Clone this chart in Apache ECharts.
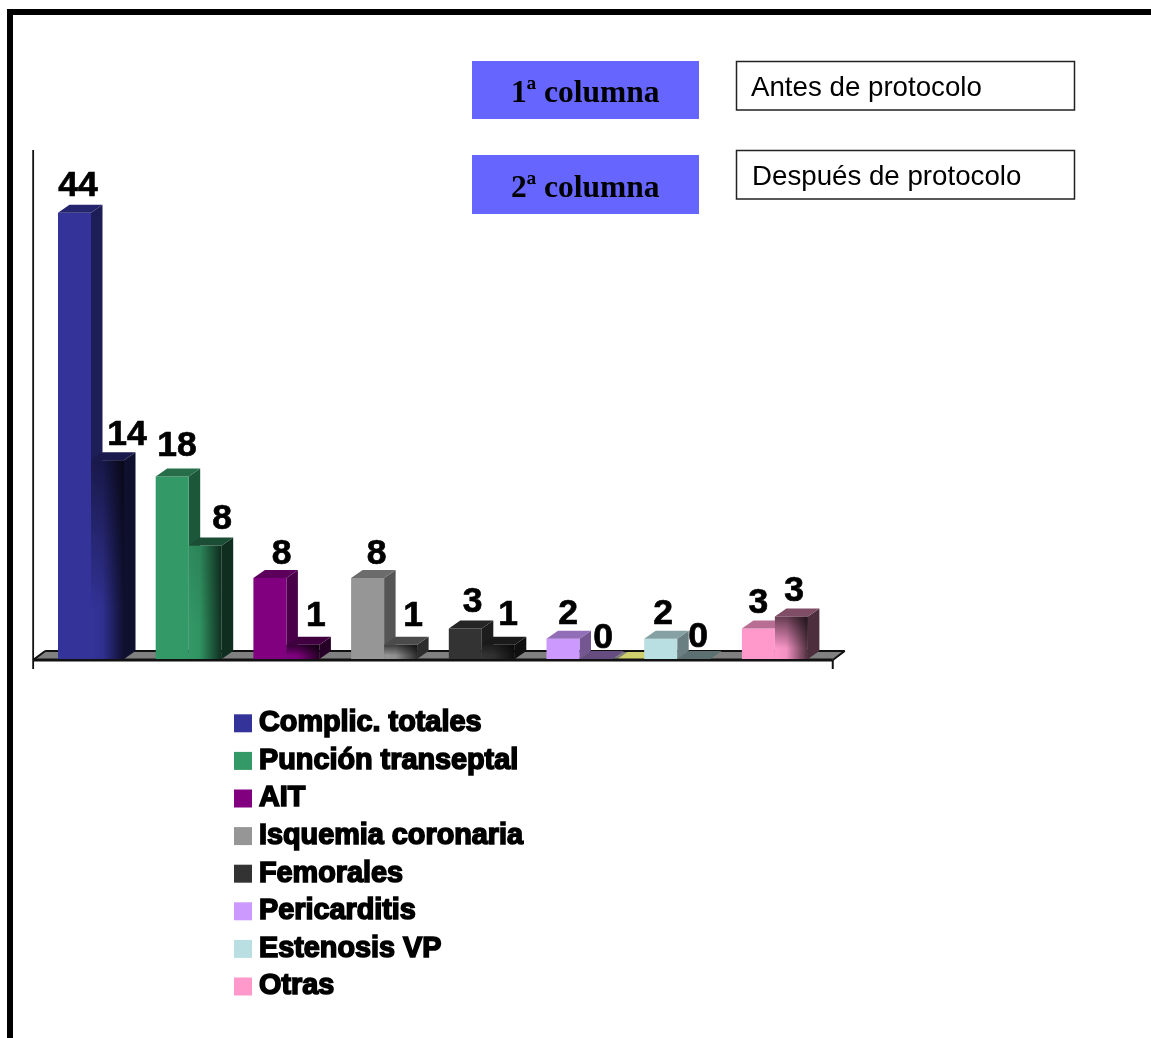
<!DOCTYPE html>
<html>
<head>
<meta charset="utf-8">
<title>Complicaciones antes y después de protocolo</title>
<style>html,body{margin:0;padding:0;background:#fff}#chart{width:1151px;height:1038px}</style>
<script src="https://cdn.jsdelivr.net/npm/echarts@6/dist/echarts.min.js"></script>
</head>
<body>
<div id="chart"></div>
<script>
// Complication counts per type, before and after the protocol.
const complicaciones = ['Complic. totales', 'Punción transeptal', 'AIT', 'Isquemia coronaria', 'Femorales', 'Pericarditis', 'Estenosis VP', 'Otras'];
const antes = [44, 18, 8, 8, 3, 2, 2, 3];
const despues = [14, 8, 1, 1, 1, 0, 0, 3];
const colores = ['#333399', '#339966', '#800080', '#969696', '#333333', '#cc99ff', '#b9dfe2', '#ff99cc'];

// Label offsets from the top of each column: [dx, dy].
const ajusteAntes = [[3.5, -8], [4.8, -11.5], [11.8, -5], [9, -5], [7.4, -7.6], [5, -5.7], [2.3, -5.7], [0, -6.6]];
const ajusteDespues = [[19.5, -6], [17, -7], [13, -10], [12.4, -10], [9.7, -11], [7, -2], [4.3, -3], [2.6, -6]];
// Darkening toward the top of the second column's front face.
const sombraDespues = [0.5, 0.1, 0.6, 0.6, 0.4, 0, 0, 0.6];

const DX = 11.5, DY = 8, BAR = 33, BASELINE_SHIFT = 7;

function tono(hex, f) {
  const n = parseInt(hex.slice(1), 16);
  const c = [n >> 16, (n >> 8) & 255, n & 255].map(v => Math.round(v * f));
  return 'rgb(' + c.join(',') + ')';
}
function poly(points, fill) {
  return { type: 'polygon', shape: { points }, style: { fill } };
}

// A column drawn as three faces: front, top and side, plus its value label.
function columna(api, cat, color, segunda, ajuste) {
  const v = api.value(1);
  const base = api.coord([cat, 0]);
  const top = api.coord([cat, v]);
  const x0 = base[0] - (segunda ? 0 : BAR), x1 = x0 + BAR, y0 = base[1], y1 = top[1];
  const rect = [[x0, y1], [x1, y1], [x1, y0], [x0, y0]];
  const kids = [];
  if (v > 0) {
    kids.push(poly([[x1, y1], [x1 + DX, y1 - DY], [x1 + DX, y0 - DY], [x1, y0]], tono(color, segunda ? 0.3 : 0.57)));
    if (segunda) {
      kids.push(poly(rect, new echarts.graphic.LinearGradient(0, 0, 1, 0, [
        { offset: 0, color: color }, { offset: 0.35, color: tono(color, 0.95) }, { offset: 1, color: tono(color, 0.3) }])));
      kids.push(poly(rect, new echarts.graphic.LinearGradient(0, 0, 0, 1, [
        { offset: 0, color: 'rgba(0,0,0,' + sombraDespues[cat] + ')' }, { offset: 0.75, color: 'rgba(0,0,0,0)' }])));
    } else {
      kids.push(poly(rect, color));
    }
  }
  kids.push(poly([[x0, y1], [x0 + DX, y1 - DY], [x1 + DX, y1 - DY], [x1, y1]], tono(color, segunda ? 0.5 : 0.72)));
  kids.push({
    type: 'text',
    style: {
      text: String(v), x: (x0 + x1) / 2 + ajuste[0], y: y1 - DY + ajuste[1] + BASELINE_SHIFT,
      font: 'bold 35.5px "Liberation Sans"', fill: '#000', stroke: '#000', lineWidth: 0.7,
      textAlign: 'center', textVerticalAlign: 'bottom'
    }
  });
  return { type: 'group', children: kids };
}

// Gray floor, vertical axis line and the stray zero-height mark on the floor.
function suelo(params, api) {
  const cs = params.coordSys, b = cs.y + cs.height;
  const xa = cs.x - 9, xb = cs.x + cs.width + 9;
  const cero = api.coord([5, 0])[0];
  const linea = (x1, y1, x2, y2, w) => ({ type: 'line', shape: { x1, y1, x2, y2 }, style: { stroke: '#111', lineWidth: w } });
  return {
    type: 'group',
    children: [
      poly([[xa, b], [xa + 12, b - DY], [xb + 12, b - DY], [xb, b]], '#808080'),
      poly([[cero + 38, b], [cero + 38 + DX, b - DY], [cero + 66, b - DY], [cero + 66, b]], '#cfcf6e'),
      linea(xa, b + 1, xb, b + 1, 3),
      linea(xa + 12, b - DY, xb + 12, b - DY, 2),
      linea(xa, b + 1, xa + 12, b - DY, 2),
      linea(xb, b + 1, xb + 12, b - DY, 2),
      linea(xb, b + 1, xb, b + 10, 2),
      linea(xa, cs.y - 2, xa, b + 10, 1.8)
    ]
  };
}

const series = [{
  type: 'custom', name: 'suelo', silent: true, z: 1, data: [[0, 0]],
  encode: { x: 0, y: 1 }, renderItem: suelo
}];
complicaciones.forEach((nombre, i) => {
  [[antes, 0, ajusteAntes], [despues, 1, ajusteDespues]].forEach(([valores, eje, ajustes]) => {
    series.push({
      type: 'custom', name: nombre, yAxisIndex: eje, z: 2,
      itemStyle: { color: colores[i] },
      data: [[i, valores[i]]], encode: { x: 0, y: 1 },
      renderItem: (params, api) => columna(api, i, colores[i], eje === 1, ajustes[i])
    });
  });
});

const caja = (x, y, w, h, fill, stroke) => ({ type: 'rect', shape: { x, y, width: w, height: h }, style: { fill, stroke, lineWidth: stroke ? 1.5 : 0 } });
const texto = (x, y, text, font) => ({ type: 'text', style: { x, y, text, font, fill: '#000', textVerticalAlign: 'middle' } });

const chart = echarts.init(document.getElementById('chart'), null, { renderer: 'canvas' });
chart.setOption({
  animation: false,
  backgroundColor: '#fff',
  grid: { left: 42.15, width: 781.6, top: 152, height: 507 },
  xAxis: { type: 'category', data: complicaciones, show: false },
  yAxis: [
    { type: 'value', min: 0, max: 50, show: false },
    { type: 'value', min: 0, max: 35.7, show: false }
  ],
  legend: {
    orient: 'vertical', left: 229, top: 703, icon: 'rect', itemWidth: 18, itemHeight: 18, itemGap: 7,
    selectedMode: false, data: complicaciones,
    textStyle: { fontWeight: 'bold', fontSize: 28.8, fontFamily: 'Liberation Sans', color: '#000', textBorderColor: '#000', textBorderWidth: 1.6, padding: [0, 0, 0, 2] }
  },
  series,
  graphic: [
    caja(7, 9, 1144, 6, '#000'),
    caja(7, 9, 6, 1029, '#000'),
    caja(472, 61, 227, 58, '#6666ff'),
    caja(472, 155, 227, 59, '#6666ff'),
    caja(736.5, 61.5, 338, 48.5, '#fff', '#222'),
    caja(736.5, 150.5, 338, 48.5, '#fff', '#222'),
    texto(511, 94, '1ª columna', 'bold 31.5px "Liberation Serif"'),
    texto(511, 189, '2ª columna', 'bold 31.5px "Liberation Serif"'),
    texto(751, 88, 'Antes de protocolo', '27.7px "Liberation Sans"'),
    texto(752, 177, 'Después de protocolo', '27.7px "Liberation Sans"')
  ]
});
</script>
</body>
</html>
